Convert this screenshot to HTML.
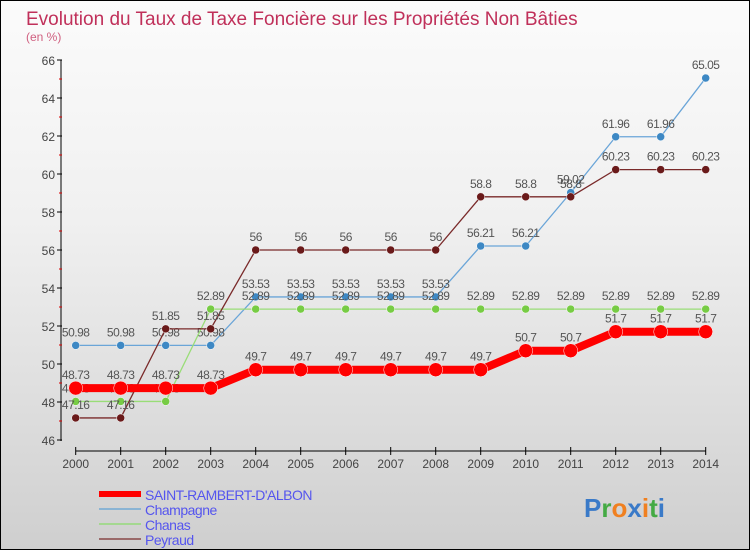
<!DOCTYPE html>
<html><head><meta charset="utf-8"><style>
body{margin:0}
#c{width:748px;height:548px;border:1px solid #000;background:linear-gradient(#fbfbfb,#f0f0f0 40%,#cfcfcf);position:relative;overflow:hidden;font-family:"Liberation Sans",sans-serif}
</style></head><body>
<div id="c">
<svg id="s" width="748" height="548" style="position:absolute;left:0;top:0"></svg>
</div>
<script>
const years=[2000,2001,2002,2003,2004,2005,2006,2007,2008,2009,2010,2011,2012,2013,2014];
const saint=[48.73,48.73,48.73,48.73,49.7,49.7,49.7,49.7,49.7,49.7,50.7,50.7,51.7,51.7,51.7];
const champagne=[50.98,50.98,50.98,50.98,53.53,53.53,53.53,53.53,53.53,56.21,56.21,59.02,61.96,61.96,65.05];
const chanas=[48.03,48.03,48.03,52.89,52.89,52.89,52.89,52.89,52.89,52.89,52.89,52.89,52.89,52.89,52.89];
const peyraud=[47.16,47.16,51.85,51.85,56,56,56,56,56,58.8,58.8,58.8,60.23,60.23,60.23];
const yTicks=[46,48,50,52,54,56,58,60,62,64,66];
const NS="http://www.w3.org/2000/svg",s=document.getElementById('s');
const X=i=>74.7+i*45,Y=v=>439-(v-46)*19;
function el(t,a,p){const e=document.createElementNS(NS,t);for(const k in a)e.setAttribute(k,a[k]);(p||s).appendChild(e);return e;}
function tx(x,y,str,a){const e=el('text',Object.assign({x:x,y:y},a));e.textContent=str;return e;}
tx(25,24,'Evolution du Taux de Taxe Foncière sur les Propriétés Non Bâties',{'font-size':19,fill:'#c0305a'});
tx(25,40,'(en %)',{'font-size':12,fill:'#d06080'});
const ax=el('g',{});
el('line',{x1:60,y1:59,x2:60,y2:440,stroke:'#000','stroke-width':1},ax);
yTicks.forEach(v=>{el('line',{x1:56,x2:61,y1:Y(v),y2:Y(v),stroke:'#000'},ax);
 if(v<66)el('line',{x1:58,x2:61,y1:Y(v+1),y2:Y(v+1),stroke:'#d00'},ax);
 const t=tx(54,Y(v)+5,String(v),{'font-size':12,fill:'#444','text-anchor':'end'},ax);});
const xa=el('g',{});
el('line',{x1:X(0),x2:X(14),y1:450,y2:450,stroke:'#000'},xa);
years.forEach((y,i)=>{el('line',{x1:X(i),x2:X(i),y1:446,y2:454,stroke:'#000'},xa);
 const t=tx(X(i),467,String(y),{'font-size':12,fill:'#444','text-anchor':'middle'},xa);});
function series(d,name,col,w,r,dot){const g=el('g',{});
 el('polyline',{points:d.map((v,i)=>X(i)+','+Y(v)).join(' '),fill:'none',stroke:col,'stroke-width':w},g);
 d.forEach((v,i)=>{const c=el('circle',{cx:X(i),cy:Y(v),r:r,fill:dot,stroke:'#fff','stroke-width':0.5},g);
  const t=tx(X(i),Y(v)-9,String(v),{'font-size':12,fill:'#555','text-anchor':'middle','letter-spacing':'-0.5'},g);});}
series(champagne,'champagne','#6aa5d8',1.3,4,'#3d88c4');
series(chanas,'chanas','#99dd77',1.3,4,'#77cc44');
series(peyraud,'peyraud','#7a2a2a',1.3,4,'#6a1a1a');
series(saint,'saint-rambert','#f00',8,7,'#f00');
const lg=[['SAINT-RAMBERT-D\'ALBON','#f00',6],['Champagne','#8ab4d4',2],['Chanas','#a4d890',2],['Peyraud','#9a6a6a',2]];
lg.forEach((l,i)=>{const g=el('g',{});
 const y=493+i*15;el('line',{x1:98,x2:140,y1:y,y2:y,stroke:l[1],'stroke-width':l[2]},g);
 tx(144,y+6,l[0],{'font-size':14,fill:'#5555ee','letter-spacing':'-0.5'},g);});
const lo=tx(583,516,'',{'font-size':26,'font-weight':'bold'});
[['P','#3a7ac8'],['r','#44aa44'],['o','#f08020'],['x','#3a7ac8'],['i','#f08020'],['t','#44aa44'],['i','#3a7ac8']].forEach(p=>{const t=el('tspan',{fill:p[1]},lo);t.textContent=p[0];});
</script>
</body></html>
